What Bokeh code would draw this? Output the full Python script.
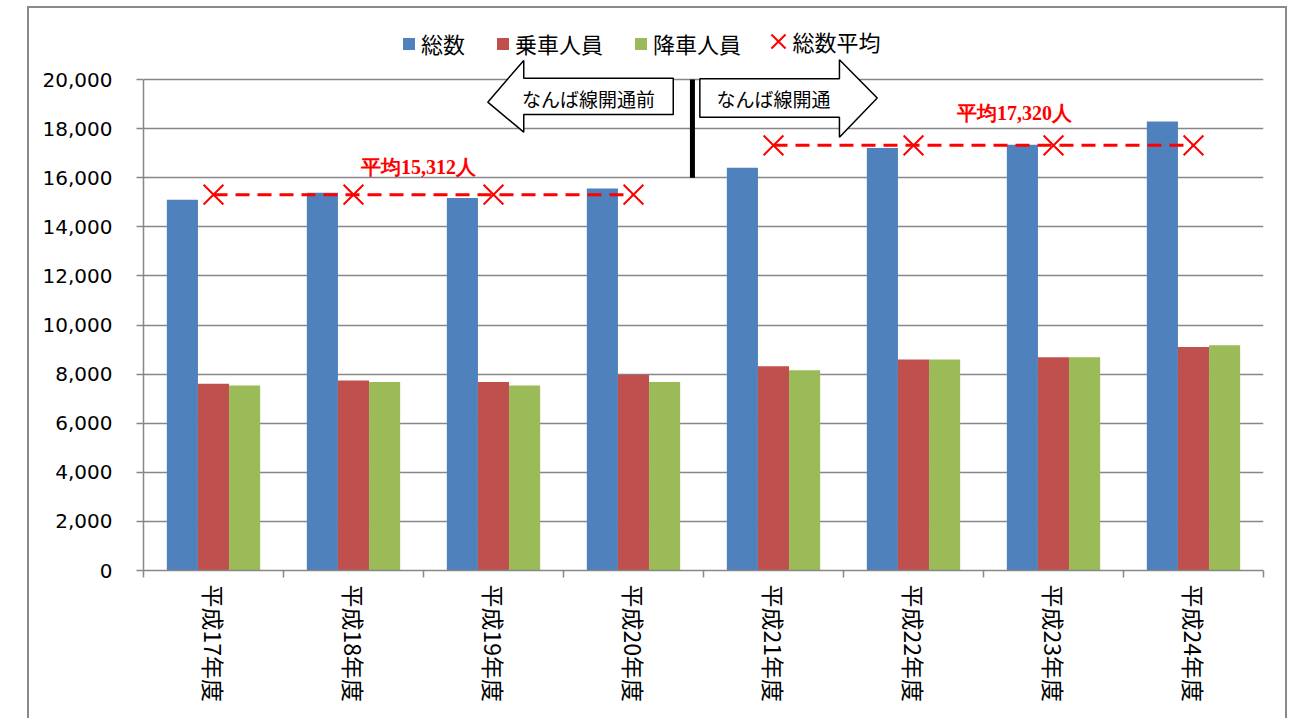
import numpy as np
from bokeh.plotting import figure
from bokeh.models import (Range1d, FixedTicker, NumeralTickFormatter, Legend, LegendItem, Label)
from bokeh.embed import file_html
from bokeh.resources import INLINE

# ---------------- data ----------------
categories = ["平成17年度", "平成18年度", "平成19年度", "平成20年度",
              "平成21年度", "平成22年度", "平成23年度", "平成24年度"]
total = [15100, 15390, 15180, 15560, 16410, 17210, 17350, 18290]
boarding = [7610, 7740, 7680, 7970, 8320, 8600, 8690, 9110]
alighting = [7540, 7680, 7540, 7680, 8160, 8600, 8690, 9180]
avg_before = 15312
avg_after = 17320
n_before = 4
series_names = ["総数", "乗車人員", "降車人員", "総数平均"]
period_names = ["なんば線開通前", "なんば線開通"]
avg_labels = ["平均15,312人", "平均17,320人"]
y_ticks = [0, 2000, 4000, 6000, 8000, 10000, 12000, 14000, 16000, 18000, 20000]

# ---------------- figure ----------------
n = len(categories)
xc = np.arange(n) + 0.5
bw = 1 / 4.5

p = figure(width=1260, height=712, x_range=Range1d(0, n), y_range=Range1d(0, 22774),
           output_backend="svg", toolbar_location=None,
           min_border_left=114, min_border_right=26, min_border_top=3, min_border_bottom=150)
p.margin = (6, 0, 0, 27)
p.styles = {"border-top": "2px solid #8a8a8a", "border-left": "2px solid #8a8a8a",
            "border-right": "2px solid #8a8a8a"}
p.outline_line_color = None
p.background_fill_color = "white"
p.border_fill_color = "white"

GRAY = "#878787"
p.xgrid.visible = False
p.ygrid.grid_line_color = GRAY
p.ygrid.grid_line_width = 1.5

ya = p.yaxis[0]
ya.ticker = FixedTicker(ticks=y_ticks)
ya.bounds = (0, 20000)
ya.formatter = NumeralTickFormatter(format="0,0")
ya.axis_line_color = GRAY
ya.axis_line_width = 1.5
ya.major_tick_line_color = GRAY
ya.major_tick_line_width = 1.5
ya.major_tick_out = 7
ya.major_tick_in = 0
ya.minor_tick_line_color = None
ya.major_label_standoff = 24
ya.major_label_text_font = "DejaVu Sans"
ya.major_label_text_font_size = "20px"
ya.major_label_text_color = "black"

xa = p.xaxis[0]
xa.ticker = FixedTicker(ticks=list(xc), minor_ticks=list(range(n + 1)))
xa.major_label_overrides = {float(x): c for x, c in zip(xc, categories)}
xa.major_label_orientation = "vertical"
xa.axis_line_color = GRAY
xa.axis_line_width = 1.5
xa.major_tick_line_color = None
xa.major_tick_out = 0
xa.major_tick_in = 0
xa.minor_tick_line_color = GRAY
xa.minor_tick_line_width = 1.5
xa.minor_tick_out = 7
xa.minor_tick_in = 0
xa.major_label_standoff = 7
xa.major_label_text_font = "Noto Sans CJK JP"
xa.major_label_text_font_size = "23px"
xa.major_label_text_color = "black"

# bars
r_tot = p.vbar(x=xc - bw, top=total, width=bw, fill_color="#4F81BD", line_color=None)
r_brd = p.vbar(x=xc, top=boarding, width=bw, fill_color="#C0504D", line_color=None)
r_alt = p.vbar(x=xc + bw, top=alighting, width=bw, fill_color="#9BBB59", line_color=None)

# averages
for xs, avg in ((xc[:n_before], avg_before), (xc[n_before:], avg_after)):
    p.line(xs, [avg] * len(xs), line_color="red", line_width=3, line_dash="14 8")
ax = list(xc)
ay = [avg_before] * n_before + [avg_after] * (n - n_before)
r_avg = p.scatter(ax, ay, marker="x", size=28, line_color="red", line_width=2)

p.add_layout(Label(x=float(np.mean(xc[:n_before])), y=avg_before, x_offset=-5, y_offset=17,
                   text=avg_labels[0], text_align="center", text_baseline="bottom",
                   text_color="red", text_font="Liberation Serif", text_font_style="bold",
                   text_font_size="20px"))
p.add_layout(Label(x=float(np.mean(xc[n_before:])), y=avg_after, x_offset=31, y_offset=21,
                   text=avg_labels[1], text_align="center", text_baseline="bottom",
                   text_color="red", text_font="Liberation Serif", text_font_style="bold",
                   text_font_size="20px"))

# period arrows (decoration)
left_arrow_x = [2.459, 2.716, 2.716, 3.784, 3.784, 2.716, 2.716]
left_arrow_y = [19080, 20778, 20057, 20057, 18578, 18578, 17857]
right_arrow_x = [3.974, 4.971, 4.971, 5.241, 4.971, 4.971, 3.974]
right_arrow_y = [20032, 20032, 20806, 19250, 17653, 18468, 18468]
p.patch(left_arrow_x, left_arrow_y, fill_color="white", line_color="black", line_width=1.5)
p.patch(right_arrow_x, right_arrow_y, fill_color="white", line_color="black", line_width=1.5)
p.segment(x0=[3.921], y0=[16000], x1=[3.921], y1=[20000], line_color="black", line_width=5)
p.add_layout(Label(x=3.179, y=19230, text=period_names[0], text_align="center",
                   text_baseline="middle", text_font="Noto Sans CJK JP", text_font_size="19px",
                   text_color="black"))
p.add_layout(Label(x=4.5, y=19230, text=period_names[1], text_align="center",
                   text_baseline="middle", text_font="Noto Sans CJK JP", text_font_size="19px",
                   text_color="black"))

# legends
leg1 = Legend(items=[LegendItem(label=series_names[0], renderers=[r_tot]),
                     LegendItem(label=series_names[1], renderers=[r_brd]),
                     LegendItem(label=series_names[2], renderers=[r_alt])],
              orientation="horizontal", location=(258, 511), glyph_width=15, glyph_height=15,
              label_standoff=5, spacing=30, padding=0, margin=0, border_line_color=None,
              label_height=32, background_fill_alpha=0, label_text_font="Noto Sans CJK JP",
              label_text_font_size="22px", label_text_color="black")
leg2 = Legend(items=[LegendItem(label=" ", renderers=[r_avg])],
              orientation="horizontal", location=(610, 504), glyph_width=50, glyph_height=50,
              label_standoff=0, spacing=0, padding=0, margin=0, border_line_color=None,
              label_width=0, label_height=32, background_fill_alpha=0,
              label_text_font="Noto Sans CJK JP", label_text_font_size="22px")
p.add_layout(leg1)
p.add_layout(leg2)
p.add_layout(Label(x=649, y=530, x_units="screen", y_units="screen", text=series_names[3],
                   text_align="left", text_baseline="middle", text_font="Noto Sans CJK JP",
                   text_font_size="22px", text_color="black"))

open("out.html", "w").write(file_html(p, INLINE))
